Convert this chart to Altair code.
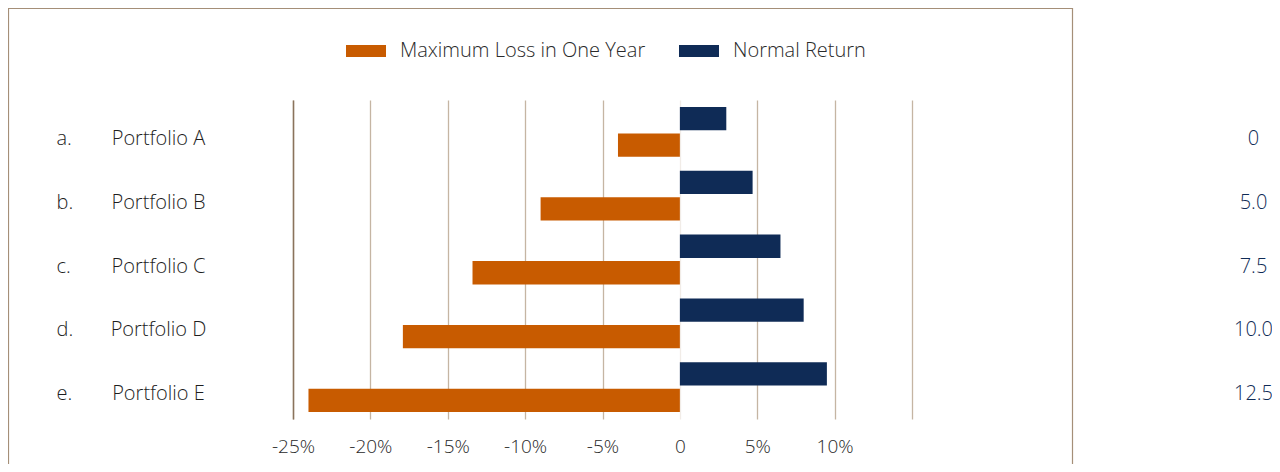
import altair as alt
import pandas as pd

portfolios = ["Portfolio A", "Portfolio B", "Portfolio C", "Portfolio D", "Portfolio E"]
letters = ["a.", "b.", "c.", "d.", "e."]
right_labels = ["0", "5.0", "7.5", "10.0", "12.5"]
normal_return = [3.0, 4.7, 6.5, 8.0, 9.5]
max_loss = [-4.0, -9.0, -13.4, -17.9, -24.0]
x_ticks = [-25, -20, -15, -10, -5, 0, 5, 10, 15]

S_LOSS = "Maximum Loss in One Year"
S_NORM = "Normal Return"
ORANGE = "#C85B00"
NAVY = "#0F2B56"
FONT = "Open Sans"
W = 300

rows = []
for i, p in enumerate(portfolios):
    rows.append({"portfolio": p, "letter": letters[i], "rlabel": right_labels[i],
                 "series": S_NORM, "value": normal_return[i]})
    rows.append({"portfolio": p, "letter": letters[i], "rlabel": right_labels[i],
                 "series": S_LOSS, "value": max_loss[i]})
df = pd.DataFrame(rows)


def yscale():
    return alt.Scale(type="band", paddingInner=0.22, paddingOuter=0.11)


xenc = alt.X(
    "value:Q",
    scale=alt.Scale(domain=[-25, 15], nice=False, zero=False),
    axis=alt.Axis(
        title=None, values=x_ticks, domain=False, ticks=False,
        labelExpr="datum.value == 0 ? '0' : (datum.value == 15 ? '' : datum.value + '%')",
        labelFontSize=19, labelColor="#2a2a2a", labelFont=FONT, labelFontWeight=W,
        labelPadding=18, labelFlush=False, labelOverlap=False, labelBound=False,
        grid=True, gridWidth=1.3,
        gridColor=alt.condition("datum.value == 0", alt.value("#f1ece7"), alt.value("#c5b5a3")),
    ),
)

bars = alt.Chart(df).mark_bar().encode(
    x=xenc,
    y=alt.Y("portfolio:N", sort=portfolios, scale=yscale(),
            axis=alt.Axis(title=None, ticks=False, domain=True, domainColor="#8a735d",
                          domainWidth=1.5, labelAlign="center", labelPadding=135,
                          labelOffset=7, labelFontSize=20, labelColor="#1e1e1e",
                          labelFont=FONT, labelFontWeight=W, labelLimit=0)),
    yOffset=alt.YOffset("series:N", sort=[S_NORM, S_LOSS], scale=alt.Scale(paddingInner=0.12)),
    color=alt.Color("series:N",
                    scale=alt.Scale(domain=[S_LOSS, S_NORM], range=[ORANGE, NAVY]),
                    legend=alt.Legend(title=None, orient="none", legendX=53, legendY=-69,
                                      direction="horizontal",
                                      symbolType="M-1,-0.3H1V0.3H-1Z", symbolSize=1600,
                                      symbolStrokeWidth=0, symbolOpacity=1,
                                      labelFontSize=20, labelFont=FONT, labelFontWeight=W,
                                      labelColor="#2a2a2a", labelLimit=0,
                                      labelOffset=14, columnPadding=33)),
)

letter_layer = alt.Chart(df).mark_bar(opacity=0).encode(
    x=alt.X("value:Q"),
    y=alt.Y("letter:N", sort=letters, scale=yscale(),
            axis=alt.Axis(title=None, orient="left", ticks=False, domain=False,
                          labelAlign="left", labelPadding=237, labelOffset=7,
                          labelFontSize=20, labelColor="#1e1e1e", labelFont=FONT,
                          labelFontWeight=W)),
)

right_layer = alt.Chart(df).mark_bar(opacity=0).encode(
    x=alt.X("value:Q"),
    y=alt.Y("rlabel:N", sort=right_labels, scale=yscale(),
            axis=alt.Axis(title=None, orient="right", ticks=False, domain=False,
                          labelAlign="center", labelPadding=341, labelOffset=7,
                          labelFontSize=20, labelColor="#0F2B56", labelFont=FONT,
                          labelFontWeight=W)),
)

frame = alt.Chart(pd.DataFrame({"f": [0]})).mark_rect(
    fillOpacity=0, stroke="#a58f78", strokeWidth=1.2
).encode(
    x=alt.value(-284.5), x2=alt.value(779.5),
    y=alt.value(-91.5), y2=alt.value(500),
)

chart = alt.layer(frame, bars, letter_layer, right_layer).resolve_scale(
    y="independent"
).properties(
    width=619, height=319,
    autosize=alt.AutoSizeParams(type="none"),
    padding={"left": 285, "top": 92, "right": 360, "bottom": 45},
    background="white",
).configure_view(stroke=None)

chart.save("out.html", embed_options={"renderer": "svg", "actions": False})
